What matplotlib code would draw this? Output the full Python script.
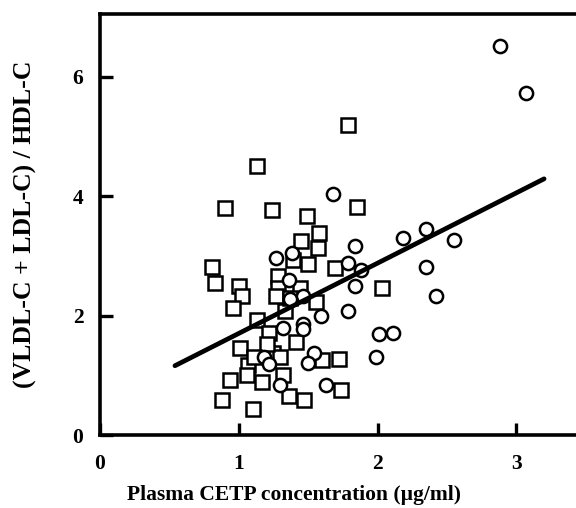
import numpy as np
import matplotlib
matplotlib.use("Agg")
import matplotlib.pyplot as plt

# squares group
sq_x = [1.79, 1.13, 0.90, 1.24, 1.49, 1.85, 1.58, 1.45, 1.57, 1.39, 1.50, 1.69,
        0.81, 0.83, 1.00, 1.02, 0.96, 1.28, 1.28, 1.27, 1.44, 1.56, 2.03, 1.33,
        1.13, 1.22, 1.41, 1.01, 1.07, 1.06, 1.25, 1.30, 0.94, 1.17, 1.32, 1.36,
        1.47, 0.88, 1.10, 1.60, 1.72, 1.74, 1.37, 1.20, 1.11]
sq_y = [5.19, 4.51, 3.80, 3.77, 3.66, 3.82, 3.38, 3.25, 3.13, 2.93, 2.87, 2.79,
        2.82, 2.54, 2.49, 2.32, 2.13, 2.67, 2.46, 2.32, 2.46, 2.23, 2.46, 2.07,
        1.93, 1.71, 1.55, 1.45, 1.17, 1.01, 1.37, 1.31, 0.92, 0.88, 1.01, 0.65,
        0.58, 0.58, 0.44, 1.26, 1.28, 0.75, 2.29, 1.52, 1.30]

# circles group
ci_x = [2.88, 3.07, 1.68, 2.35, 2.18, 2.55, 1.84, 1.27, 1.38, 1.79, 1.88, 2.35,
        1.36, 1.84, 1.46, 2.42, 1.79, 1.59, 1.46, 1.46, 1.32, 2.01, 2.11, 1.54,
        1.50, 1.18, 1.22, 1.99, 1.30, 1.63, 1.37]
ci_y = [6.52, 5.72, 4.03, 3.45, 3.30, 3.26, 3.16, 2.96, 3.04, 2.88, 2.76, 2.82,
        2.60, 2.50, 2.33, 2.33, 2.08, 1.99, 1.86, 1.77, 1.79, 1.69, 1.71, 1.37,
        1.20, 1.31, 1.19, 1.31, 0.83, 0.83, 2.28]

# regression line ends
line_x = [0.54, 3.20]
line_y = [1.16, 4.29]

xticks = [0, 1, 2, 3]
yticks = [0, 2, 4, 6]

plt.rcParams['font.family'] = ['Liberation Serif', 'DejaVu Serif']
plt.rcParams['font.weight'] = 'bold'

fig = plt.figure(figsize=(5.76, 5.08), dpi=100)
ax = fig.add_axes([0.1736, 0.1437, 0.8264, 0.8287])

ax.plot(sq_x, sq_y, 's', ms=9.5, mfc='white', mec='black', mew=1.8, ls='none')
ax.plot(ci_x, ci_y, 'o', ms=9.5, mfc='white', mec='black', mew=1.8, ls='none')
ax.plot(line_x, line_y, '-', color='black', lw=3.4, solid_capstyle='round')

ax.set_xlim(0, 3.43)
ax.set_ylim(0, 7.05)
ax.set_xticks(xticks)
ax.set_yticks(yticks)
ax.set_xticklabels([str(t) for t in xticks], fontsize=15.5, fontweight='bold')
ax.set_yticklabels([str(t) for t in yticks], fontsize=15.5, fontweight='bold')
ax.tick_params(direction='in', length=9, width=2.4, pad=12)
ax.tick_params(axis='x', pad=14)

for s in ['left', 'bottom', 'top']:
    ax.spines[s].set_linewidth(2.6)
ax.spines['right'].set_visible(False)

ax.set_xlabel('Plasma CETP concentration (\u00b5g/ml)', fontsize=15.5, fontweight='bold')
ax.set_ylabel('(VLDL-C + LDL-C) / HDL-C', fontsize=18.5, fontweight='bold')
ax.xaxis.set_label_coords(0.408, -0.118)
ax.yaxis.set_label_coords(-0.132, 0.5)

fig.savefig('out.png', dpi=100)
